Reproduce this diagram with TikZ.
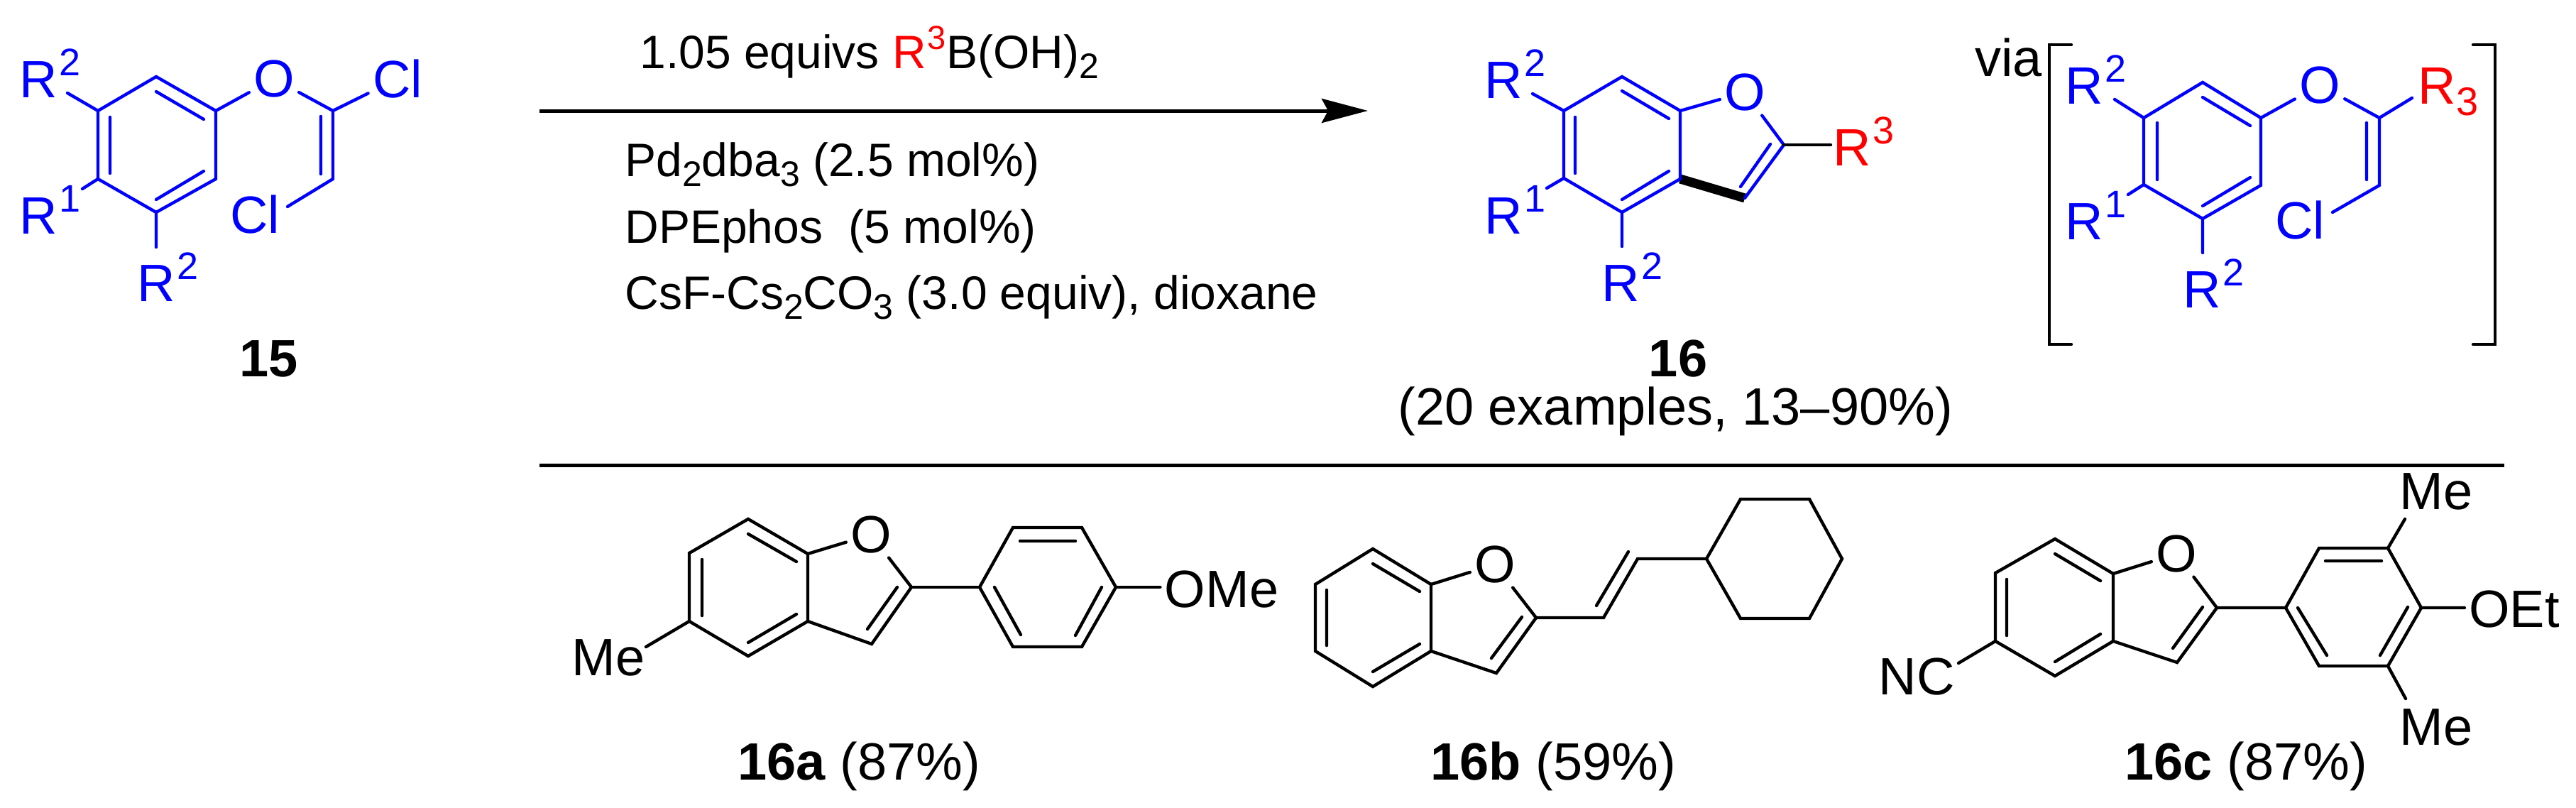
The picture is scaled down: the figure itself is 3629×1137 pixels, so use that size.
\documentclass[tikz,border=0pt]{standalone}
\usepackage{fontspec}
\setmainfont{Liberation Sans}
\usetikzlibrary{arrows.meta}
\newcommand{\supnum}[1]{\kern1.5pt\raisebox{15.5pt}{\fontsize{27}{27}\selectfont #1}}
\newcommand{\subnum}[1]{\kern0.5pt\raisebox{-8pt}{\fontsize{28}{28}\selectfont #1}}
\newcommand{\supsm}[1]{\kern1pt\raisebox{13.5pt}{\fontsize{23.5}{24}\selectfont #1}}
\newcommand{\subsm}[1]{\raisebox{-7pt}{\fontsize{25}{25}\selectfont #1}}
\tikzset{
  bond/.style={line width=2.2pt, line cap=round},
  bluebond/.style={bond, blue},
  atom/.style={inner sep=3pt, font=\fontsize{37}{40}\selectfont},
  lab/.style={inner sep=0pt, anchor=base west, font=\fontsize{37}{40}\selectfont},
  reagent/.style={inner sep=0pt, anchor=base west, font=\fontsize{33}{36}\selectfont},
}
\begin{document}
\begin{tikzpicture}[x=0.5pt, y=-0.5pt]
\useasboundingbox (0,0) rectangle (3629,1137);

% 15
\coordinate (a1) at (220,108); \coordinate (a2) at (304,156); \coordinate (a3) at (304,252);
\coordinate (a4) at (220,299); \coordinate (a5) at (138,252); \coordinate (a6) at (138,156);
\coordinate (a7) at (469,156); \coordinate (a8) at (469,252);
\coordinate (a9) at (95,131); \coordinate (a10) at (116,266); \coordinate (a11) at (220,348); \coordinate (a12) at (405,291);
\node[atom, blue] (oa) at (386,111) {O};
\node[atom, blue] (cla) at (560,111) {Cl};
\node[atom, blue] (clb) at (359,302) {Cl};
\node[lab, blue] (r2a) at (27,137) {R\supnum{2}};
\node[lab, blue] (r1a) at (27,329) {R\supnum{1}};
\node[lab, blue] (r2b) at (193,424) {R\supnum{2}};
\draw[bluebond] (a1) -- (a2) -- (a3) -- (a4) -- (a5) -- (a6) -- cycle;
\draw[bluebond] (155,165) -- (155,244) (220,129) -- (287,168) (287,241) -- (220,281) (452,164) -- (452,245);
\draw[bluebond] (a2) -- (oa) (oa) -- (a7) -- (cla) (a7) -- (a8) -- (a12);
\draw[bluebond] (a6) -- (a9) (a5) -- (a10) (a4) -- (a11);
\node[lab, anchor=center, font=\fontsize{37}{40}\selectfont\bfseries] (l15) at (379,505) {15};

% arrow and reagents
\coordinate (arrl) at (760,156); \coordinate (arrr) at (1927,156);
\draw[line width=2.5pt, -{Stealth[length=32.5pt,width=17pt,inset=4.5pt]}] (arrl) -- (arrr);
\node[reagent] (t1) at (901,96) {1.05 equivs {\color{red}R\supsm{3}}B(OH)\subsm{2}};
\node[reagent] (t2) at (880,248) {Pd\subsm{2}dba\subsm{3} (2.5 mol\%)};
\node[reagent] (t3) at (880,342) {DPEphos\ \ (5 mol\%)};
\node[reagent] (t4) at (880,435) {CsF-Cs\subsm{2}CO\subsm{3} (3.0 equiv), dioxane};

% 16
\coordinate (b1) at (2285,108); \coordinate (b2) at (2367,156); \coordinate (b3) at (2367,252);
\coordinate (b4) at (2285,299); \coordinate (b5) at (2203,251); \coordinate (b6) at (2203,156);
\coordinate (b7) at (2513,204); \coordinate (b8) at (2458,279);
\coordinate (b9) at (2159,132); \coordinate (b10) at (2179,265); \coordinate (b11) at (2285,347); \coordinate (b12) at (2579,204);
\node[atom, blue] (ob) at (2458,130) {O};
\node[lab, blue] (r2c) at (2091,138) {R\supnum{2}};
\node[lab, blue] (r1b) at (2091,329) {R\supnum{1}};
\node[lab, blue] (r2d) at (2256,424) {R\supnum{2}};
\node[lab, red] (r3a) at (2582,233) {R\supnum{3}};
\draw[line width=6.5pt] (b3) -- (b8);
\draw[bluebond] (b1) -- (b2) -- (b3) -- (b4) -- (b5) -- (b6) -- cycle;
\draw[bluebond] (2219,165) -- (2219,244) (2285,128) -- (2351,167) (2351,241) -- (2285,281) (2494,203) -- (2452,263);
\draw[bluebond] (b2) -- (ob) (ob) -- (b7) -- (b8);
\draw[bluebond] (b6) -- (b9) (b5) -- (b10) (b4) -- (b11);
\draw[bond] (b7) -- (b12);
\node[lab, anchor=center, font=\fontsize{37}{40}\selectfont\bfseries] (l16) at (2364,505) {16};
\node[lab] (l16y) at (1969,598) {(20 examples, 13--90\%)};

% via
\node[lab] (via) at (2782,107) {via};
\coordinate (c1) at (3103,116); \coordinate (c2) at (3185,166); \coordinate (c3) at (3185,261);
\coordinate (c4) at (3103,308); \coordinate (c5) at (3020,260); \coordinate (c6) at (3020,166);
\coordinate (c7) at (3352,166); \coordinate (c8) at (3352,261);
\coordinate (c9) at (2979,140); \coordinate (c10) at (2998,274); \coordinate (c11) at (3103,356);
\coordinate (c12) at (3286,299); \coordinate (c13) at (3398,138);
\node[atom, blue] (oc) at (3268,120) {O};
\node[atom, blue] (clc) at (3240,310) {Cl};
\node[lab, blue] (r2e) at (2909,146) {R\supnum{2}};
\node[lab, blue] (r1c) at (2909,337) {R\supnum{1}};
\node[lab, blue] (r2f) at (3075,433) {R\supnum{2}};
\node[lab, red] (r3b) at (3406,146) {R\subnum{3}};
\draw[bluebond] (c1) -- (c2) -- (c3) -- (c4) -- (c5) -- (c6) -- cycle;
\draw[bluebond] (3039,173) -- (3039,253) (3103,137) -- (3170,177) (3170,250) -- (3103,290) (3334,173) -- (3334,253);
\draw[bluebond] (c2) -- (oc) (oc) -- (c7) -- (c13) (c7) -- (c8) -- (c12);
\draw[bluebond] (c6) -- (c9) (c5) -- (c10) (c4) -- (c11);
\draw[bond] (2918,63) -- (2887,63) -- (2887,485) -- (2918,485);
\draw[bond] (3484,63) -- (3515,63) -- (3515,485) -- (3484,485);

% rule
\coordinate (rulel) at (760,655); \coordinate (ruler) at (3528,655);
\draw[line width=2.5pt] (rulel) -- (ruler);

% 16a
\coordinate (d1) at (1054,731); \coordinate (d2) at (1138,780); \coordinate (d3) at (1138,875);
\coordinate (d4) at (1054,924); \coordinate (d5) at (971,875); \coordinate (d6) at (971,779);
\coordinate (d7) at (1284,827); \coordinate (d8) at (1228,907); \coordinate (d9) at (910,911);
\coordinate (e1) at (1380,827); \coordinate (e2) at (1427,743); \coordinate (e3) at (1524,743);
\coordinate (e4) at (1572,827); \coordinate (e5) at (1524,911); \coordinate (e6) at (1427,911);
\node[atom] (od) at (1227,753) {O};
\node[atom] (med) at (857,926) {Me};
\node[atom] (ome) at (1721,830) {OMe};
\draw[bond] (d1) -- (d2) -- (d3) -- (d4) -- (d5) -- (d6) -- cycle;
\draw[bond] (989,788) -- (989,867) (1054,752) -- (1122,791) (1122,865) -- (1054,905) (1264,827) -- (1222,886);
\draw[bond] (d2) -- (od) (od) -- (d7) -- (d8) -- (d3) (d5) -- (d9);
\draw[bond] (e1) -- (e2) -- (e3) -- (e4) -- (e5) -- (e6) -- cycle;
\draw[bond] (1437,762) -- (1515,762) (1401,827) -- (1438,894) (1552,827) -- (1515,895);
\draw[bond] (d7) -- (e1) (e4) -- (e4 -| ome.west);
\node[lab] (l16a) at (1039,1098) {\textbf{16a} (87\%)};

% 16b
\coordinate (f1) at (1934,773); \coordinate (f2) at (2016,823); \coordinate (f3) at (2016,917);
\coordinate (f4) at (1934,967); \coordinate (f5) at (1853,917); \coordinate (f6) at (1853,823);
\coordinate (f7) at (2164,870); \coordinate (f8) at (2108,948);
\coordinate (f9) at (2259,870); \coordinate (f10) at (2307,787);
\coordinate (g1) at (2404,787); \coordinate (g2) at (2452,703); \coordinate (g3) at (2549,703);
\coordinate (g4) at (2595,787); \coordinate (g5) at (2549,871); \coordinate (g6) at (2452,871);
\node[atom] (of) at (2106,795) {O};
\draw[bond] (f1) -- (f2) -- (f3) -- (f4) -- (f5) -- (f6) -- cycle;
\draw[bond] (1869,831) -- (1869,909) (1934,794) -- (2000,833) (2000,907) -- (1934,946) (2144,869) -- (2101,927) (2294,777) -- (2249,853);
\draw[bond] (f2) -- (of) (of) -- (f7) -- (f8) -- (f3) (f7) -- (f9) -- (f10) -- (g1);
\draw[bond] (g1) -- (g2) -- (g3) -- (g4) -- (g5) -- (g6) -- cycle;
\node[lab] (l16b) at (2015,1098) {\textbf{16b} (59\%)};

% 16c
\coordinate (h1) at (2895,759); \coordinate (h2) at (2977,808); \coordinate (h3) at (2977,903);
\coordinate (h4) at (2895,952); \coordinate (h5) at (2811,903); \coordinate (h6) at (2811,807);
\coordinate (h7) at (3123,856); \coordinate (h8) at (3067,933); \coordinate (h9) at (2759,934);
\coordinate (k1) at (3220,856); \coordinate (k2) at (3267,772); \coordinate (k3) at (3364,772);
\coordinate (k4) at (3411,856); \coordinate (k5) at (3364,938); \coordinate (k6) at (3267,938);
\coordinate (k7) at (3388,731); \coordinate (k8) at (3389,984);
\node[atom] (oh) at (3066,780) {O};
\node[atom] (nc) at (2700,953) {NC};
\node[atom] (oet) at (3542,858) {OEt};
\node[atom] (met) at (3432,692) {Me};
\node[atom] (meb) at (3432,1024) {Me};
\draw[bond] (h1) -- (h2) -- (h3) -- (h4) -- (h5) -- (h6) -- cycle;
\draw[bond] (2827,816) -- (2827,895) (2895,780) -- (2959,818) (2959,893) -- (2895,932) (3103,855) -- (3061,913);
\draw[bond] (h2) -- (oh) (oh) -- (h7) -- (h8) -- (h3) (h5) -- (h9);
\draw[bond] (k1) -- (k2) -- (k3) -- (k4) -- (k5) -- (k6) -- cycle;
\draw[bond] (3276,790) -- (3355,790) (3237,856) -- (3278,923) (3392,855) -- (3353,923);
\draw[bond] (h7) -- (k1) (k4) -- (k4 -| oet.west) (k3) -- (k7) (k5) -- (k8);
\node[lab] (l16c) at (2993,1098) {\textbf{16c} (87\%)};
\end{tikzpicture}
\end{document}
